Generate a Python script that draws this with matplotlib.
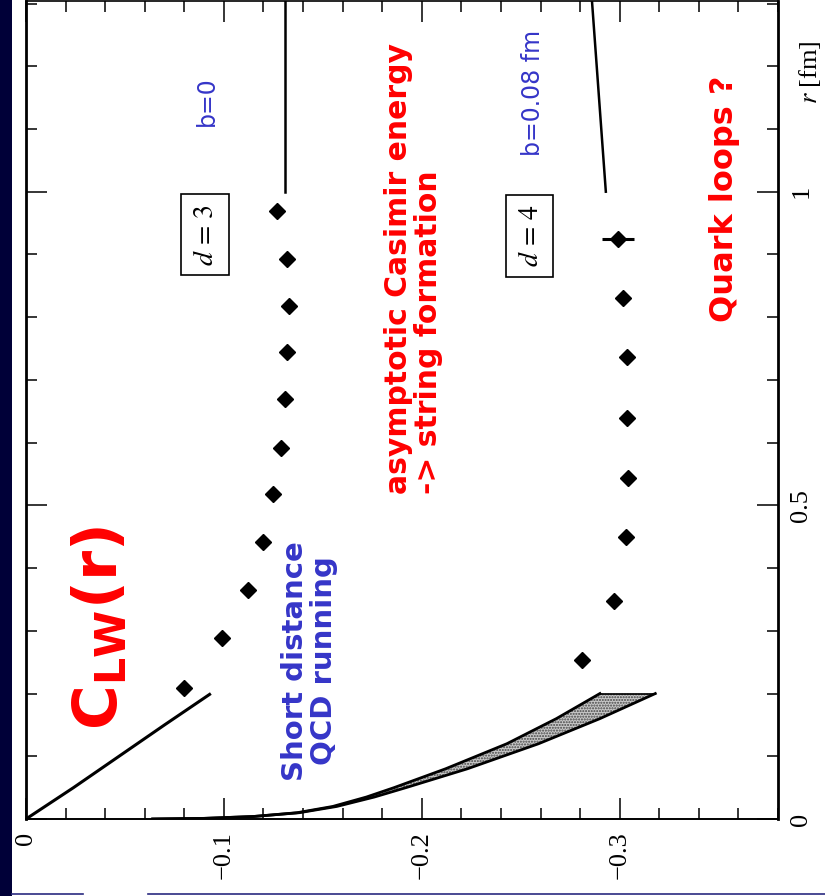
import matplotlib
matplotlib.use('Agg')
import matplotlib.pyplot as plt
from matplotlib.ticker import MultipleLocator, FuncFormatter
from matplotlib.lines import Line2D

# Lattice data: distance r [fm] and C_LW(r)
r_d3 = [0.209, 0.288, 0.365, 0.441, 0.518, 0.592, 0.669, 0.744, 0.818, 0.893, 0.970]
c_d3 = [-0.080, -0.099, -0.112, -0.120, -0.125, -0.129, -0.131, -0.132, -0.133, -0.132, -0.127]

r_d4 = [0.253, 0.347, 0.449, 0.543, 0.640, 0.737, 0.831, 0.924]
c_d4 = [-0.281, -0.297, -0.303, -0.304, -0.3035, -0.3035, -0.3015, -0.299]
err_d4 = [0, 0, 0, 0, 0, 0, 0, 0.008]

# short distance (perturbative) curves
pert_d3_r = [0.0, 0.05, 0.10, 0.15, 0.20]
pert_d3_c = [0.0, -0.024, -0.047, -0.070, -0.0934]

band_r = [0.0, 0.001, 0.004, 0.01, 0.02, 0.035, 0.05, 0.08, 0.12, 0.16, 0.20]
band_lo = [-0.064, -0.09, -0.115, -0.137, -0.155, -0.172, -0.186, -0.212, -0.243, -0.268, -0.29]
band_hi = [-0.064, -0.09, -0.115, -0.138, -0.157, -0.176, -0.192, -0.223, -0.259, -0.29, -0.318]

# asymptotic string values
asym_d3_r = [1.0, 1.304]
asym_d3_c = [-0.1309, -0.1309]
asym_d4_r = [1.0, 1.304]
asym_d4_c = [-0.293, -0.286]

RED = '#ff0000'
BLUE = '#3535c8'
NAVY = '#000038'

fig = plt.figure(figsize=(8.25, 8.96), dpi=100)
fig.patch.set_facecolor('white')
ax = fig.add_axes([26 / 825, 77 / 896, 752 / 825, 818 / 896])

# navy frame pieces of the slide
fig.patches.append(plt.Rectangle((0, 0), 12 / 825, 1, transform=fig.transFigure,
                                 facecolor=NAVY, edgecolor='none'))
fig.lines.append(Line2D([12 / 825, 83 / 825], [2 / 896, 2 / 896], transform=fig.transFigure,
                        color='#2a2a80', lw=1.2))
fig.lines.append(Line2D([148 / 825, 1], [2 / 896, 2 / 896], transform=fig.transFigure,
                        color='#2a2a80', lw=1.2))

# plot drawn rotated: C on horizontal axis, r on vertical
ax.plot(pert_d3_c, pert_d3_r, color='black', lw=2.2, solid_capstyle='butt')
ax.fill_betweenx(band_r, band_lo, band_hi, facecolor='#c8c8c8', edgecolor='#444444',
                 hatch='......', linewidth=0)
ax.plot(band_lo, band_r, color='black', lw=2.0)
ax.plot(band_hi, band_r, color='black', lw=2.0)
ax.plot([band_lo[-1], band_hi[-1]], [band_r[-1], band_r[-1]], color='black', lw=1.2)

ax.plot(asym_d3_c, asym_d3_r, color='black', lw=1.8)
ax.plot(asym_d4_c, asym_d4_r, color='black', lw=1.8)

ax.plot(c_d3, r_d3, 'D', color='black', ms=8)
ax.errorbar(c_d4, r_d4, xerr=err_d4, fmt='D', color='black', ms=8,
            elinewidth=2.2, capsize=0)

ax.set_xlim(0, -0.38)
ax.set_ylim(0, 1.304)

ax.xaxis.set_major_locator(MultipleLocator(0.1))
ax.xaxis.set_minor_locator(MultipleLocator(0.02))
ax.yaxis.set_major_locator(MultipleLocator(0.5))
ax.yaxis.set_minor_locator(MultipleLocator(0.1))

fmt = FuncFormatter(lambda v, p: '0' if abs(v) < 1e-9 else ('%g' % v).replace('-', '\u2212'))
ax.xaxis.set_major_formatter(fmt)
ax.yaxis.set_major_formatter(fmt)

ax.tick_params(which='both', direction='in', top=True, bottom=True, left=True, right=True,
               labelleft=False, labelright=True, width=1.1, color='black')
ax.tick_params(which='major', length=15)
ax.tick_params(which='minor', length=8)
ax.tick_params(axis='x', pad=9)
ax.tick_params(axis='y', pad=9)
for lab in ax.get_xticklabels() + ax.get_yticklabels():
    lab.set_rotation(90)
    lab.set_family('Liberation Serif')
    lab.set_fontsize(19)
for lab in ax.get_yticklabels():
    lab.set_va('center')

for side, w in [('left', 2.0), ('right', 2.0), ('top', 1.2), ('bottom', 1.4)]:
    ax.spines[side].set_linewidth(w)

# annotations
ax.text(-0.0374, 0.304, r'$\mathbf{C_{LW}(r)}$', color=RED, fontsize=44, rotation=90,
        ha='center', va='center', math_fontfamily='dejavusans')
ax.text(-0.1434, 0.252, 'Short distance\nQCD running', color=BLUE, fontsize=21,
        fontweight='bold', rotation=90, ha='center', va='center', linespacing=1.05)
ax.text(-0.196, 0.878, 'asymptotic Casimir energy\n-> string formation', color=RED,
        fontsize=21.5, fontweight='bold', rotation=90, ha='center', va='center',
        multialignment='left', linespacing=1.05)
ax.text(-0.353, 0.989, 'Quark loops ?', color=RED, fontsize=23, fontweight='bold',
        rotation=90, ha='center', va='center')
ax.text(-0.0915, 1.145, 'b=0', color=BLUE, fontsize=17, rotation=90,
        ha='center', va='center')
ax.text(-0.256, 1.158, 'b=0.08 fm', color=BLUE, fontsize=17, rotation=90,
        ha='center', va='center')

box = dict(boxstyle='square,pad=0.35', facecolor='white', edgecolor='black', lw=1.2)
ax.text(-0.0904, 0.931, r'$d\,=\,3$', fontsize=20, rotation=90, ha='center', va='center',
        math_fontfamily='stix', bbox=box)
ax.text(-0.2545, 0.930, r'$d\,=\,4$', fontsize=20, rotation=90, ha='center', va='center',
        math_fontfamily='stix', bbox=box)

ax.text(-0.396, 1.19, r'$r$ [fm]', fontsize=19, rotation=90, ha='center', va='center',
        family='Liberation Serif', math_fontfamily='stix', clip_on=False)

fig.savefig('out.png', dpi=100)
